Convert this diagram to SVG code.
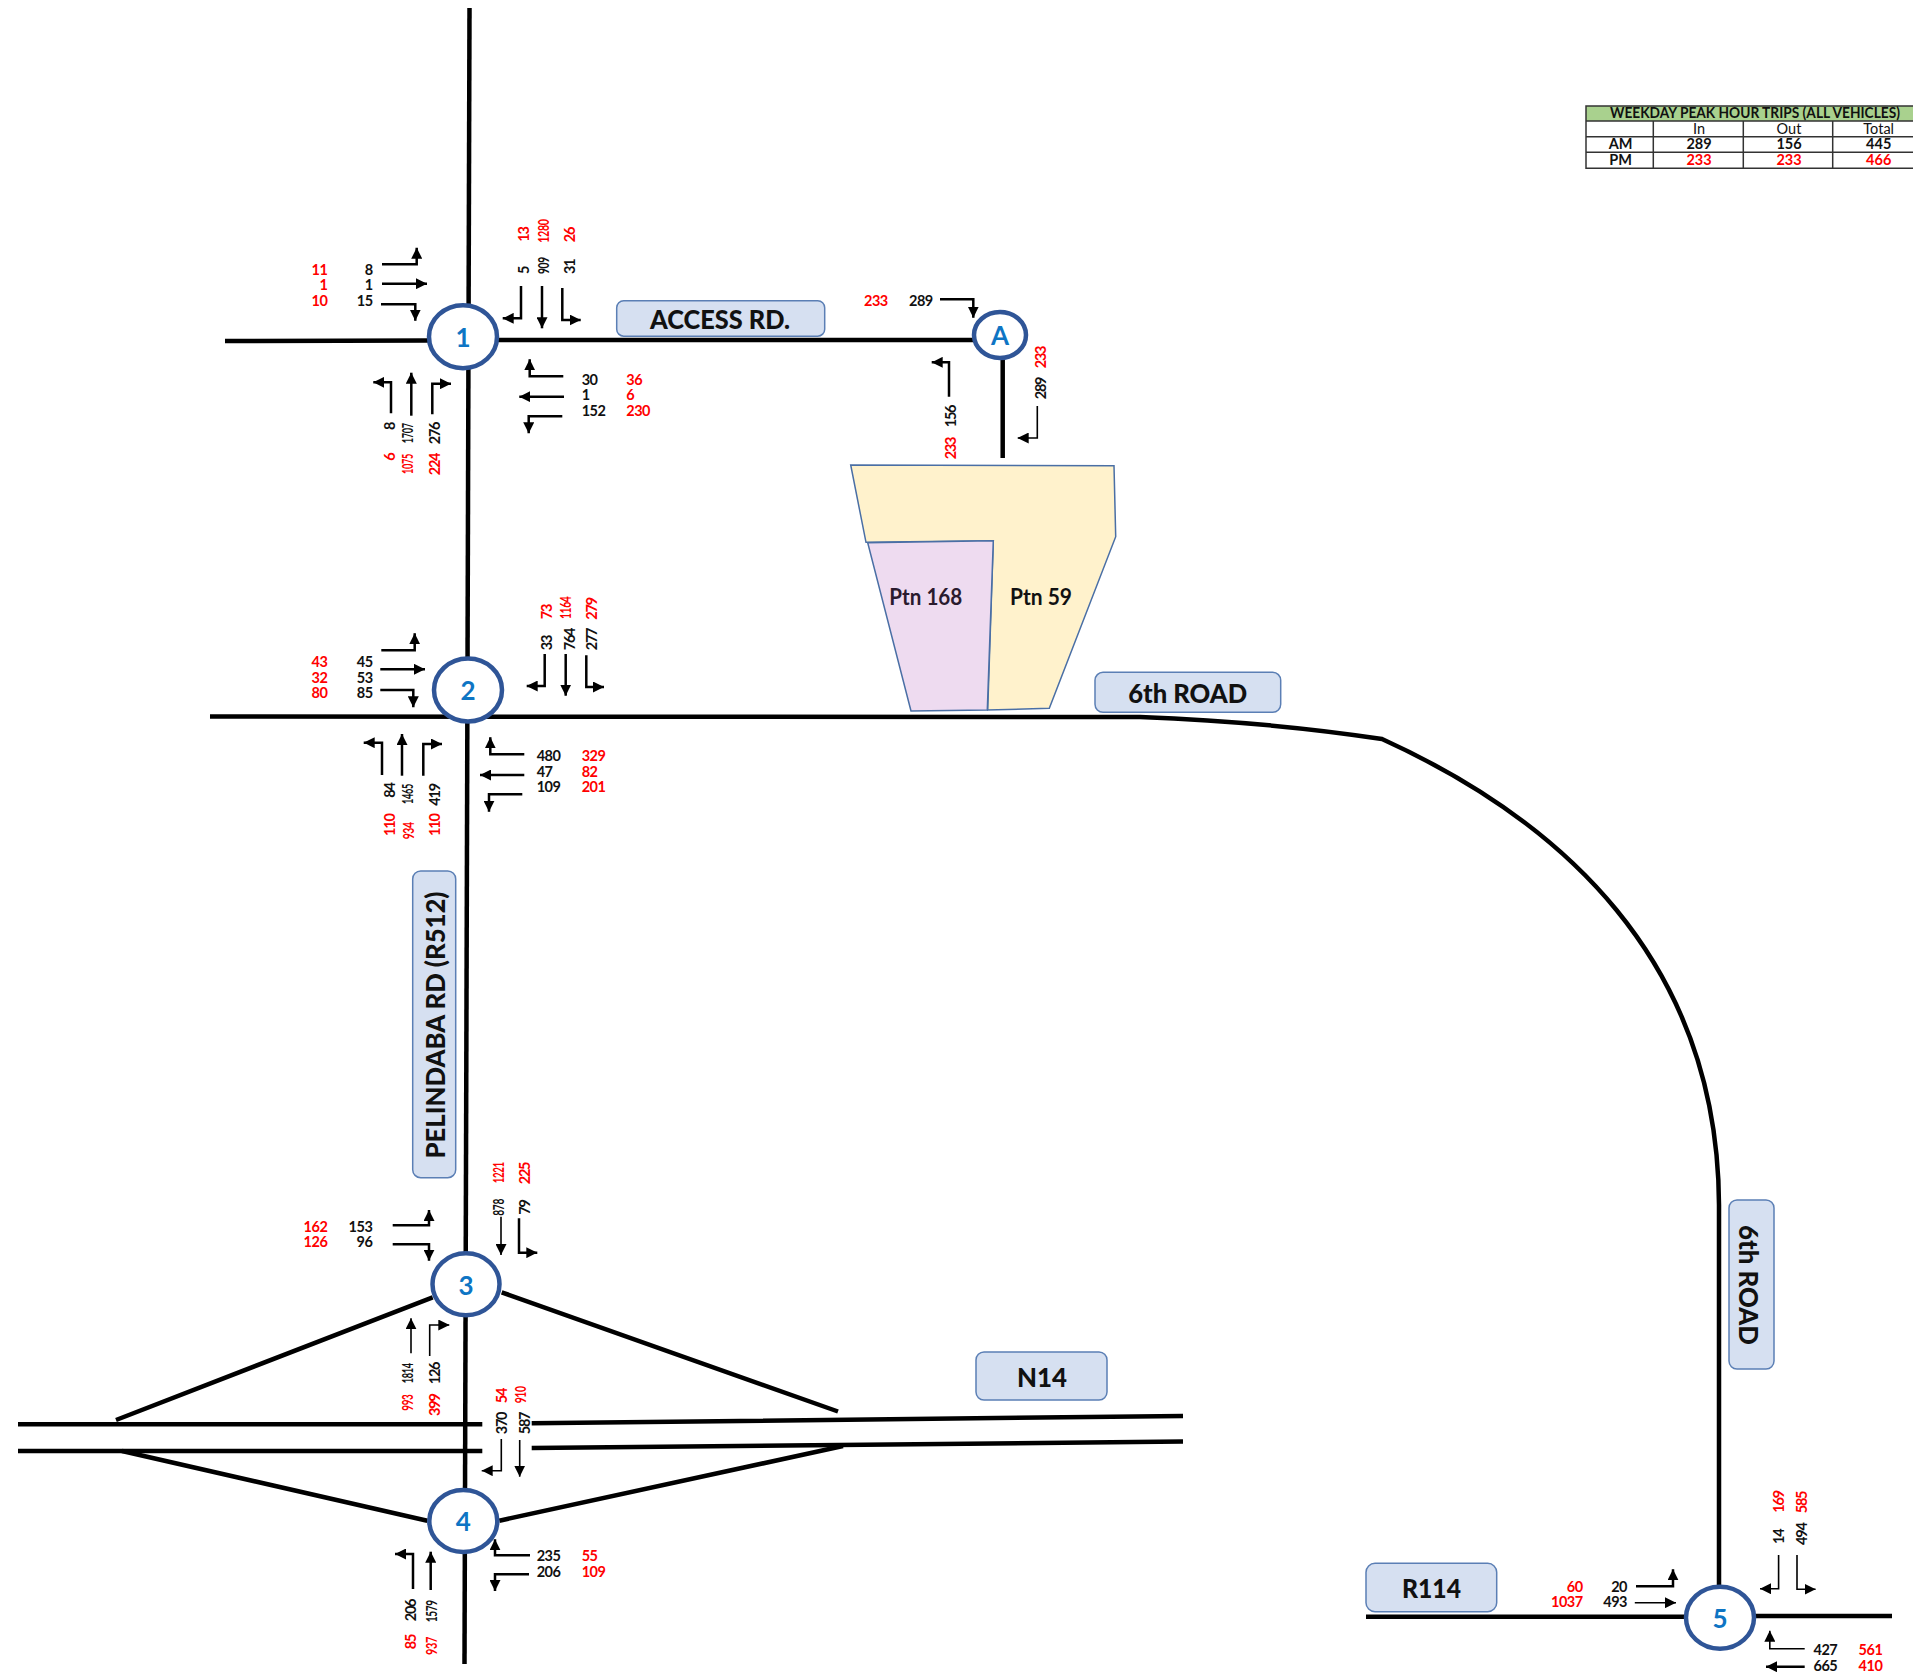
<svg xmlns="http://www.w3.org/2000/svg" width="1913" height="1674" viewBox="0 0 1913 1674">
<style>
text{font-family:"Lato","Liberation Sans",sans-serif}
.k,.r{font-size:14.5px;font-weight:700;letter-spacing:-.5px}
.k[transform]:not([textLength]),.r[transform]:not([textLength]){letter-spacing:-1.2px}
.k{fill:#111}.r{fill:#f00}
.e{text-anchor:end}.m{text-anchor:middle}
.road{fill:none;stroke:#000;stroke-width:4.5}
.a,.b{fill:none;stroke:#000;stroke-width:2.5;marker-end:url(#h)}
.b{stroke-width:1.6}
.c{fill:#fff;stroke:#2f5597;stroke-width:4.5}
.n{font-size:26px;font-weight:700;fill:#0e75c4;text-anchor:middle}
.lb{fill:#d6e0f1;stroke:#5b7fb5;stroke-width:1.5}
.lt{font-size:27px;font-weight:900;fill:#111;text-anchor:middle}
.p{stroke:#4a6fa5;stroke-width:1.5}
.pt{font-size:22px;font-weight:700;fill:#111}
.th{fill:none;stroke:#333;stroke-width:1.5}
.tt{font-size:14.5px;fill:#111;text-anchor:middle}
.tb{font-size:14.5px;font-weight:700;fill:#111;text-anchor:middle}
.tr{font-size:14.5px;font-weight:700;fill:#f00;text-anchor:middle}
</style>
<defs><marker id="h" viewBox="0 0 10 10" refX="10" refY="5" markerWidth="11" markerHeight="11" markerUnits="userSpaceOnUse" orient="auto"><path d="M0 0L10 5L0 10Z" fill="#000"/></marker></defs>

<g id="sites">
<polygon id="ptn59" class="p" fill="#fff2cc" points="850.7,465 1114,465.7 1115.7,536.7 1049.3,708.3 987.7,710 993.3,540.7 866,542.3"/>
<polygon id="ptn168" class="p" fill="#eedbf0" points="867.7,542.7 993.3,540.7 987.3,710 911,711"/>
<text class="pt" x="889.3" y="604.5" style="fill:#2a1a2e" textLength="73" lengthAdjust="spacingAndGlyphs">Ptn 168</text>
<text class="pt" x="1010" y="604.5" textLength="62" lengthAdjust="spacingAndGlyphs">Ptn 59</text>
</g>

<g id="connectors">
<path class="road" d="M469.5 8L464.5 1664"/>
<path class="road" d="M225 341L428 340.5M497 340L975 340"/>
<path class="road" d="M1002.7 358V458"/>
<path class="road" d="M210 716.5L1140 717Q1270 722 1382 739C1560 820 1718 960 1719 1205V1590"/>
<path class="road" d="M18 1424.3H482.3M531.7 1423.2L1183 1416M18 1451H482.3M531.7 1448L1183 1441.5"/>
<path class="road" d="M116 1420L432.7 1297.3M501.7 1292.3L838 1411.5M122 1451L427.3 1520.7M499.3 1520.7L843 1446"/>
<path class="road" d="M1366 1616.7H1690M1750 1616H1892"/>

<polyline class="a" points="382,264.3 416.7,264.3 416.7,247.7"/>
<polyline class="a" points="382,283.7 427,283.7"/>
<polyline class="a" points="381,304.3 415.3,304.3 415.3,320.7"/>
<polyline class="a" points="521,286 521,318.3 502.7,318.3"/>
<polyline class="a" points="542,286 542,328.3"/>
<polyline class="a" points="562.3,288 562.3,320 580.7,320"/>
<polyline class="a" points="563.3,376.3 529.7,376.3 529.7,359.3"/>
<polyline class="a" points="564,396.7 519.3,396.7"/>
<polyline class="a" points="562.3,416.3 528.7,416.3 528.7,433.3"/>
<polyline class="a" points="391,413.3 391,382.3 373.3,382.3"/>
<polyline class="a" points="411.3,415.7 411.3,372.7"/>
<polyline class="a" points="432.3,414.3 432.3,383.7 451,383.7"/>

<polyline class="a" points="940,299.3 973.3,299.3 973.3,317.7"/>
<polyline class="a" points="949,396.7 949,362.3 931.7,362.3"/>
<polyline class="b" points="1037.3,406 1037.3,438 1017.7,438"/>

<polyline class="a" points="381.3,650.3 414.7,650.3 414.7,633.3"/>
<polyline class="a" points="380.3,669.3 425,669.3"/>
<polyline class="a" points="380.3,690 413.3,690 413.3,707.3"/>
<polyline class="a" points="544.7,654 544.7,686 526.7,686"/>
<polyline class="a" points="565.7,654 565.7,695.7"/>
<polyline class="a" points="586.3,655.3 586.3,687 604,687"/>
<polyline class="a" points="524.3,754.3 490.3,754.3 490.3,737.3"/>
<polyline class="a" points="524.3,775 480,775"/>
<polyline class="a" points="522.3,794.3 489,794.3 489,811.7"/>
<polyline class="a" points="382,775 382,742.7 363.7,742.7"/>
<polyline class="a" points="402,775.7 402,734"/>
<polyline class="a" points="423.3,775.7 423.3,744 442,744"/>

<polyline class="a" points="392.7,1225.3 429,1225.3 429,1210"/>
<polyline class="a" points="392.7,1244.3 429,1244.3 429,1260.7"/>
<polyline class="b" points="501,1216.7 501,1255"/>
<polyline class="a" points="519,1218.3 519,1252.7 537.3,1252.7"/>
<polyline class="b" points="411,1353.3 411,1318.3"/>
<polyline class="b" points="429.7,1356 429.7,1325 449.3,1325"/>

<polyline class="b" points="501.3,1439 501.3,1470.7 481.7,1470.7"/>
<polyline class="b" points="519.7,1440 519.7,1476.7"/>
<polyline class="a" points="530,1555.3 495,1555.3 495,1539.3"/>
<polyline class="a" points="529,1574.3 495,1574.3 495,1591"/>
<polyline class="a" points="413,1589 413,1554 395,1554"/>
<polyline class="a" points="430.7,1590 430.7,1551.7"/>

<polyline class="a" points="1636,1586.3 1673,1586.3 1673,1569.3"/>
<polyline class="b" points="1634.8,1602.7 1676,1602.7"/>
<polyline class="b" points="1778.6,1555 1778.6,1588.7 1760,1588.7"/>
<polyline class="b" points="1797,1555 1797,1589.3 1815.6,1589.3"/>
<polyline class="b" points="1804.7,1648.7 1769.8,1648.7 1769.8,1630.7"/>
<polyline class="a" points="1804.7,1666.7 1766,1666.7"/>
</g>

<g id="node-1"><ellipse class="c" cx="463" cy="336.7" rx="34" ry="31.5"/><text class="n" x="463" y="346.7">1</text></g>
<g id="node-2"><ellipse class="c" cx="468" cy="690" rx="34" ry="31.5"/><text class="n" x="468" y="700">2</text></g>
<g id="node-3"><ellipse class="c" cx="466" cy="1284.3" rx="33.5" ry="31"/><text class="n" x="466" y="1295">3</text></g>
<g id="node-4"><ellipse class="c" cx="463.3" cy="1521" rx="34" ry="31"/><text class="n" x="463.3" y="1531">4</text></g>
<g id="node-5"><ellipse class="c" cx="1720" cy="1617.7" rx="34" ry="31"/><text class="n" x="1720" y="1627.7">5</text></g>
<g id="node-A"><ellipse class="c" cx="1000" cy="335" rx="26" ry="23"/><text class="n" x="1000" y="345">A</text></g>

<g id="label-access"><rect class="lb" x="616.7" y="300.7" width="208" height="35.5" rx="7"/><text class="lt" x="720" y="329" textLength="140" lengthAdjust="spacingAndGlyphs">ACCESS RD.</text></g>
<g id="label-6th-h"><rect class="lb" x="1095" y="672.3" width="185.7" height="40" rx="8"/><text class="lt" x="1187.7" y="703" textLength="119" lengthAdjust="spacingAndGlyphs">6th ROAD</text></g>
<g id="label-pelindaba"><rect class="lb" x="412.7" y="871" width="43" height="306.7" rx="8"/><text class="lt" transform="translate(445 1025) rotate(-90)" textLength="267" lengthAdjust="spacingAndGlyphs">PELINDABA RD (R512)</text></g>
<g id="label-n14"><rect class="lb" x="976" y="1352" width="131" height="48" rx="8"/><text class="lt" x="1042" y="1387" textLength="50" lengthAdjust="spacingAndGlyphs">N14</text></g>
<g id="label-6th-v"><rect class="lb" x="1729" y="1200" width="45" height="169" rx="8"/><text class="lt" transform="translate(1739 1285) rotate(90)" textLength="120" lengthAdjust="spacingAndGlyphs">6th ROAD</text></g>
<g id="label-r114"><rect class="lb" x="1366" y="1563.3" width="130.7" height="48.4" rx="9"/><text class="lt" x="1431.5" y="1598.3" textLength="59" lengthAdjust="spacingAndGlyphs">R114</text></g>

<g id="counts-1">
<text class="k e" x="372.7" y="275">8</text><text class="k e" x="372.7" y="290">1</text><text class="k e" x="372.7" y="306">15</text>
<text class="r e" x="327.3" y="275">11</text><text class="r e" x="327.3" y="290">1</text><text class="r e" x="327.3" y="306">10</text>
<text class="k" transform="translate(529.3 274) rotate(-90)">5</text><text class="r" transform="translate(529.3 241.7) rotate(-90)">13</text>
<text class="k" transform="translate(549 274) rotate(-90)" textLength="16.7" lengthAdjust="spacingAndGlyphs">909</text><text class="r" transform="translate(549 242.7) rotate(-90)" textLength="23.3" lengthAdjust="spacingAndGlyphs">1280</text>
<text class="k" transform="translate(575 274) rotate(-90)">31</text><text class="r" transform="translate(575 242.3) rotate(-90)">26</text>
<text class="k" x="581.7" y="385">30</text><text class="k" x="581.7" y="400">1</text><text class="k" x="581.7" y="416">152</text>
<text class="r" x="626.3" y="385">36</text><text class="r" x="626.3" y="400">6</text><text class="r" x="626.3" y="416">230</text>
<text class="k" transform="translate(395 430) rotate(-90)">8</text><text class="r" transform="translate(395 460.7) rotate(-90)">6</text>
<text class="k" transform="translate(413.3 443.3) rotate(-90)" textLength="20" lengthAdjust="spacingAndGlyphs">1707</text><text class="r" transform="translate(413.3 474) rotate(-90)" textLength="20" lengthAdjust="spacingAndGlyphs">1075</text>
<text class="k" transform="translate(440 444.3) rotate(-90)">276</text><text class="r" transform="translate(440 475.3) rotate(-90)">224</text>
</g>
<g id="counts-A">
<text class="r" x="864" y="306">233</text><text class="k" x="909" y="306">289</text>
<text class="k" transform="translate(955.7 427.3) rotate(-90)">156</text><text class="r" transform="translate(955.7 459.3) rotate(-90)">233</text>
<text class="k" transform="translate(1045.7 399.3) rotate(-90)">289</text><text class="r" transform="translate(1045.7 368.3) rotate(-90)">233</text>
</g>
<g id="counts-2">
<text class="k e" x="372.7" y="666.7">45</text><text class="k e" x="372.7" y="682.7">53</text><text class="k e" x="372.7" y="698">85</text>
<text class="r e" x="327.3" y="666.7">43</text><text class="r e" x="327.3" y="682.7">32</text><text class="r e" x="327.3" y="698">80</text>
<text class="k" transform="translate(552.3 650.3) rotate(-90)">33</text><text class="r" transform="translate(552.3 619.3) rotate(-90)">73</text>
<text class="k" transform="translate(575 650.3) rotate(-90)">764</text><text class="r" transform="translate(571 619) rotate(-90)" textLength="22.3" lengthAdjust="spacingAndGlyphs">1164</text>
<text class="k" transform="translate(597.3 650.3) rotate(-90)">277</text><text class="r" transform="translate(597.3 619.7) rotate(-90)">279</text>
<text class="k" x="536.7" y="760.7">480</text><text class="k" x="536.7" y="776.7">47</text><text class="k" x="536.7" y="792">109</text>
<text class="r" x="581.7" y="760.7">329</text><text class="r" x="581.7" y="776.7">82</text><text class="r" x="581.7" y="792">201</text>
<text class="k" transform="translate(395 797.7) rotate(-90)">84</text><text class="r" transform="translate(395 836) rotate(-90)">110</text>
<text class="k" transform="translate(413.3 804) rotate(-90)" textLength="20" lengthAdjust="spacingAndGlyphs">1465</text><text class="r" transform="translate(414.3 839.3) rotate(-90)" textLength="17" lengthAdjust="spacingAndGlyphs">934</text>
<text class="k" transform="translate(440 805.7) rotate(-90)">419</text><text class="r" transform="translate(440 836) rotate(-90)">110</text>
</g>
<g id="counts-3">
<text class="k e" x="372.3" y="1231.7">153</text><text class="k e" x="372.3" y="1246.7">96</text>
<text class="r e" x="327.3" y="1231.7">162</text><text class="r e" x="327.3" y="1246.7">126</text>
<text class="k" transform="translate(504 1215.7) rotate(-90)" textLength="16.7" lengthAdjust="spacingAndGlyphs">878</text><text class="r" transform="translate(504 1183.3) rotate(-90)" textLength="21" lengthAdjust="spacingAndGlyphs">1221</text>
<text class="k" transform="translate(530 1214.7) rotate(-90)">79</text><text class="r" transform="translate(530 1184.3) rotate(-90)">225</text>
<text class="k" transform="translate(413.3 1383.3) rotate(-90)" textLength="20" lengthAdjust="spacingAndGlyphs">1814</text><text class="r" transform="translate(413.3 1410.7) rotate(-90)" textLength="16" lengthAdjust="spacingAndGlyphs">993</text>
<text class="k" transform="translate(440 1384.3) rotate(-90)">126</text><text class="r" transform="translate(440 1416) rotate(-90)">399</text>
</g>
<g id="counts-4">
<text class="k" transform="translate(506.7 1434.3) rotate(-90)">370</text><text class="r" transform="translate(506.7 1403.3) rotate(-90)">54</text>
<text class="k" transform="translate(530 1434.3) rotate(-90)">587</text><text class="r" transform="translate(526 1403.3) rotate(-90)" textLength="17" lengthAdjust="spacingAndGlyphs">910</text>
<text class="k" x="536.7" y="1560.7">235</text><text class="k" x="536.7" y="1576.7">206</text>
<text class="r" x="581.7" y="1560.7">55</text><text class="r" x="581.7" y="1576.7">109</text>
<text class="k" transform="translate(416 1621.3) rotate(-90)">206</text><text class="r" transform="translate(416 1649.3) rotate(-90)">85</text>
<text class="k" transform="translate(437 1622.3) rotate(-90)" textLength="22" lengthAdjust="spacingAndGlyphs">1579</text><text class="r" transform="translate(437 1655) rotate(-90)" textLength="18" lengthAdjust="spacingAndGlyphs">937</text>
</g>
<g id="counts-5">
<text class="k e" x="1627" y="1591.7">20</text><text class="k e" x="1627" y="1607.3">493</text>
<text class="r e" x="1582.7" y="1591.7">60</text><text class="r e" x="1582.7" y="1607.3">1037</text>
<text class="k" transform="translate(1784 1544) rotate(-90)">14</text><text class="r" transform="translate(1784 1512.7) rotate(-90)">169</text>
<text class="k" transform="translate(1806.8 1545) rotate(-90)">494</text><text class="r" transform="translate(1806.8 1513.3) rotate(-90)">585</text>
<text class="k" x="1813.5" y="1655">427</text><text class="k" x="1813.5" y="1671">665</text>
<text class="r" x="1858.6" y="1655">561</text><text class="r" x="1858.6" y="1671">410</text>
</g>

<g id="trip-table">
<rect x="1586" y="106" width="327" height="15" fill="#a9d18e"/>
<path class="th" d="M1913 106H1586V168.3H1913M1586 121H1913M1586 136.7H1913M1586 152.3H1913M1653.3 121V168.3M1743.3 121V168.3M1832.7 121V168.3"/>
<text class="tb" x="1755" y="118.3" textLength="290" lengthAdjust="spacingAndGlyphs">WEEKDAY PEAK HOUR TRIPS (ALL VEHICLES)</text>
<text class="tt" x="1699" y="134.3">In</text><text class="tt" x="1789" y="134.3">Out</text><text class="tt" x="1878.7" y="134.3">Total</text>
<text class="tb" x="1620.7" y="149.3">AM</text><text class="tb" x="1699" y="149.3">289</text><text class="tb" x="1789" y="149.3">156</text><text class="tb" x="1878.7" y="149.3">445</text>
<text class="tb" x="1620.7" y="165">PM</text><text class="tr" x="1699" y="165">233</text><text class="tr" x="1789" y="165">233</text><text class="tr" x="1878.7" y="165">466</text>
</g>
</svg>
